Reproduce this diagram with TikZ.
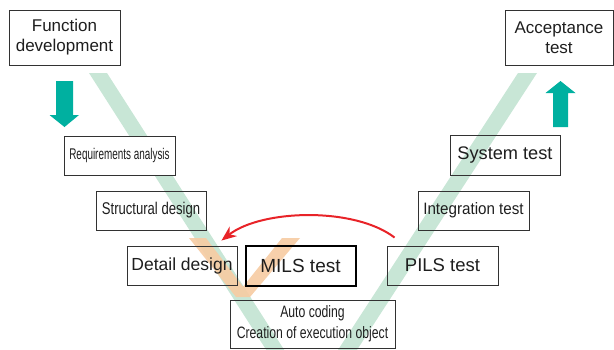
\documentclass[tikz,border=0pt]{standalone}
\usepackage{fontspec}
\setmainfont{Liberation Sans}
\newfontfamily\fReq[FakeStretch=0.64]{Liberation Sans}
\newfontfamily\fStr[FakeStretch=0.77]{Liberation Sans}
\newfontfamily\fInt[FakeStretch=0.92]{Liberation Sans}
\newfontfamily\fAuto[FakeStretch=0.74]{Liberation Sans}
\usetikzlibrary{arrows.meta,calc}
\definecolor{vgreen}{RGB}{200,230,214}
\definecolor{vorange}{RGB}{246,204,164}
\definecolor{teal2}{RGB}{0,176,160}
\definecolor{redarr}{RGB}{232,35,40}
\definecolor{boxline}{RGB}{50,50,50}
\definecolor{txt}{RGB}{30,30,30}
\tikzset{
  box/.style={draw=boxline, line width=0.9pt, rectangle, inner sep=0pt, text=txt, align=center},
  thickbox/.style={box, draw=black, line width=2pt},
  bigarrow/.style={fill=teal2, draw=none},
}
\begin{document}
\begin{tikzpicture}[x=1pt,y=-1pt]
\useasboundingbox (0,0) rectangle (614,349);
\begin{scope}
\clip (0,0) rectangle (614,349);
% green V stripes
\fill[vgreen] (89,73) -- (107,73) -- (299,373) -- (281,373) -- cycle;
\fill[vgreen] (518,73) -- (537,73) -- (342,373) -- (323,373) -- cycle;
% orange V
\fill[vorange, opacity=0.92] (189,238) -- (206,238) -- (243,286.7) -- (282,238) -- (300,238) -- (250,297) -- (236,297) -- cycle;
\end{scope}
% teal arrows
\fill[bigarrow] (56,81) -- (73,81) -- (73,115) -- (79,115) -- (64.5,127) -- (49.5,115) -- (56,115) -- cycle;
\fill[bigarrow] (553,127) -- (568,127) -- (568,93) -- (575.5,93) -- (560.5,81) -- (545.5,93) -- (553,93) -- cycle;
% boxes
\node[box, minimum width=111, minimum height=55, font=\fontsize{17}{20}\selectfont] (fd) at (64.5,37.5) {Function\\development};
\node[box, minimum width=108, minimum height=55, font=\fontsize{17}{20}\selectfont] (at) at (559,37.5) {Acceptance\\test};
\node[box, fill=white, minimum width=111, minimum height=39, font=\fReq\fontsize{15.5}{18}\selectfont] (ra) at (119.5,155.5) {Requirements analysis};
\node[box, minimum width=110, minimum height=39, font=\fStr\fontsize{17}{20}\selectfont] (sd) at (151,210.5) {Structural design};
\node[box, minimum width=110, minimum height=39, font=\fontsize{17.5}{20}\selectfont] (dd) at (182,265.5) {Detail design};
\node[thickbox, minimum width=110, minimum height=40, font=\fontsize{19}{22}\selectfont] (mils) at (300.5,265.5) {MILS test};
\node[box, minimum width=165, minimum height=48, font=\fAuto\fontsize{16.5}{21}\selectfont] (ac) at (312.5,324) {Auto coding\\Creation of execution object};
\node[box, minimum width=111, minimum height=39, font=\fontsize{18.5}{22}\selectfont] (pils) at (442.5,265.5) {PILS test};
\node[box, minimum width=111, minimum height=39, font=\fInt\fontsize{16.5}{20}\selectfont] (it) at (473.5,210.5) {Integration test};
\node[box, minimum width=110, minimum height=40, font=\fontsize{18.2}{21}\selectfont] (st) at (505,155) {System test};
% red arrow
\coordinate (rs) at ($(pils.north west)+(8,-8)$);
\coordinate (re) at ($(dd.north east)+(-16,-5)$);
\draw[redarr, line width=2pt, -{Stealth[length=15pt,width=12pt]}] (rs) .. controls (355,207) and (262,209) .. (re);
\end{tikzpicture}
\end{document}
